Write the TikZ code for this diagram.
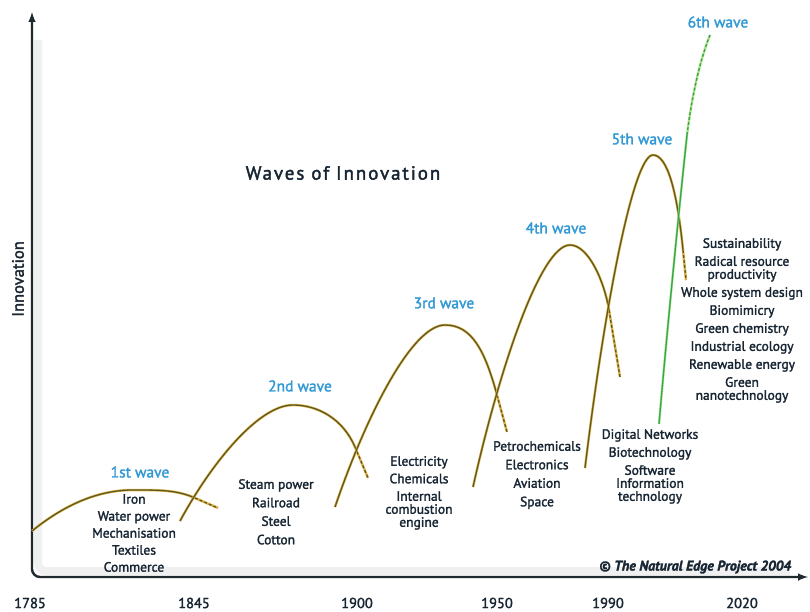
\documentclass[tikz,border=0pt]{standalone}
\usepackage{fontspec}
\setmainfont{PT Sans}[FakeBold=2]
\usepackage{tikz}
\usetikzlibrary{arrows}
\usetikzlibrary{positioning}

\definecolor{axiscol}{HTML}{1F2A2E}
\definecolor{textcol}{HTML}{182634}
\definecolor{wavecol}{HTML}{3399D4}
\definecolor{curvecol}{HTML}{5E5A24}
\definecolor{halocol}{HTML}{E2B448}
\definecolor{greencol}{HTML}{2FA84F}
\definecolor{greenhalo}{HTML}{B8E08C}

\tikzset{
  wavecurve/.style={draw=curvecol, line width=1.3pt, preaction={draw=halocol, line width=2.5pt}},
  greencurve/.style={draw=greencol, line width=1.3pt, preaction={draw=greenhalo, line width=2.4pt}},
  wavetail/.style={dash pattern=on 3pt off 2pt},
  wavelabel/.style={text=wavecol, font=\fontsize{15.5}{15.5}\selectfont, inner sep=0pt},
  itemlist/.style={text=textcol, font=\fontsize{13.5}{13}\selectfont, align=center, anchor=north, inner sep=0pt},
  yearlabel/.style={text=textcol, font=\fontsize{14.5}{14.5}\selectfont, inner sep=0pt},
}

\begin{document}
\begin{tikzpicture}[x=1pt, y=-1pt]
  \useasboundingbox (0,0) rectangle (810,612);

  % axes
  \draw[black!6, line width=8pt, rounded corners=8pt] (38,40) -- (38,571) -- (790,571);
  \draw[axiscol, line width=2.4pt, rounded corners=8pt, latex-latex] (32,12) -- (32,577) -- (808,577);
  \node[text=textcol, font=\fontsize{16.5}{16.5}\selectfont, rotate=90, inner sep=0pt] (ylab) at (18,279) {Innovation};

  \node[yearlabel] (y1785) at (30,603) {1785};
  \node[yearlabel] (y1845) at (194,603) {1845};
  \node[yearlabel] (y1900) at (357,603) {1900};
  \node[yearlabel] (y1950) at (497,603) {1950};
  \node[yearlabel] (y1990) at (608,603) {1990};
  \node[yearlabel] (y2020) at (742,603) {2020};

  \node[text=textcol, font=\fontsize{19}{19}\selectfont\addfontfeatures{LetterSpace=10}, inner sep=0pt] (title) at (343,173) {Waves of Innovation};

  % the waves
  \draw[wavecurve] (32,531) .. controls (65.7,503.7) and (99.3,490) .. (133,490) .. controls (160,490) and (177,490) .. (195,498);
  \draw[wavecurve, wavetail] (195,498) -- (218,508);

  \draw[wavecurve] (180,521) .. controls (212,462) and (259,405) .. (293,405) .. controls (318,405) and (343,419) .. (355,447);
  \draw[wavecurve, wavetail] (355,447) -- (368,478);

  \draw[wavecurve] (335,507) .. controls (366,416) and (412,325) .. (445,325) .. controls (472,325) and (485,351) .. (497,395);
  \draw[wavecurve, wavetail] (497,395) -- (507,432);

  \draw[wavecurve] (473,487) .. controls (500,366) and (541,245) .. (570,245) .. controls (588,245) and (604,280) .. (609,310);
  \draw[wavecurve, wavetail] (609,310) -- (620,377);

  \draw[wavecurve] (585,468) .. controls (604,311) and (633,155) .. (653,155) .. controls (667,155) and (677,190) .. (683,250);
  \draw[wavecurve, wavetail] (683,250) -- (686,280);

  \draw[greencurve] (659,424) .. controls (668,320) and (680,200) .. (687,135);
  \draw[greencurve, wavetail] (687,135) .. controls (692,95) and (700,60) .. (710,35);

  % wave names
  \node[wavelabel] (w1) at (140,472) {1st wave};
  \node[wavelabel] (w2) at (300,386) {2nd wave};
  \node[wavelabel] (w3) at (444,303) {3rd wave};
  \node[wavelabel] (w4) at (556,228) {4th wave};
  \node[wavelabel] (w5) at (642,139) {5th wave};
  \node[wavelabel] (w6) at (718,22) {6th wave};

  % what each wave brought
  \node[itemlist] (list1) at (134,494) {Iron\\[4pt] Water power\\[4pt] Mechanisation\\[4pt] Textiles\\[4pt] Commerce};
  \node[itemlist] (list2) at (276,479) {Steam power\\[5.5pt] Railroad\\[5.5pt] Steel\\[5.5pt] Cotton};
  \node[itemlist] (list3) at (419,456) {Electricity\\[4.5pt] Chemicals\\[4.5pt] Internal\\ combustion\\ engine};
  \node[itemlist] (list4) at (537,441) {Petrochemicals\\[5.5pt] Electronics\\[5.5pt] Aviation\\[5.5pt] Space};
  \node[itemlist] (list5) at (650,429) {Digital Networks\\[5pt] Biotechnology\\[5pt] Software\\ Information\\ technology};
  \node[itemlist] (list6) at (742,238) {Sustainability\\[5pt] Radical resource\\ productivity\\[5pt] Whole system design\\[5pt] Biomimicry\\[5pt] Green chemistry\\[5pt] Industrial ecology\\[5pt] Renewable energy\\[5pt] Green\\ nanotechnology};

  \node[text=textcol, font=\fontsize{14}{14}\selectfont\bfseries\itshape, inner sep=0pt] (credit) at (695,567) {\textcopyright{} The Natural Edge Project 2004};
\end{tikzpicture}
\end{document}
